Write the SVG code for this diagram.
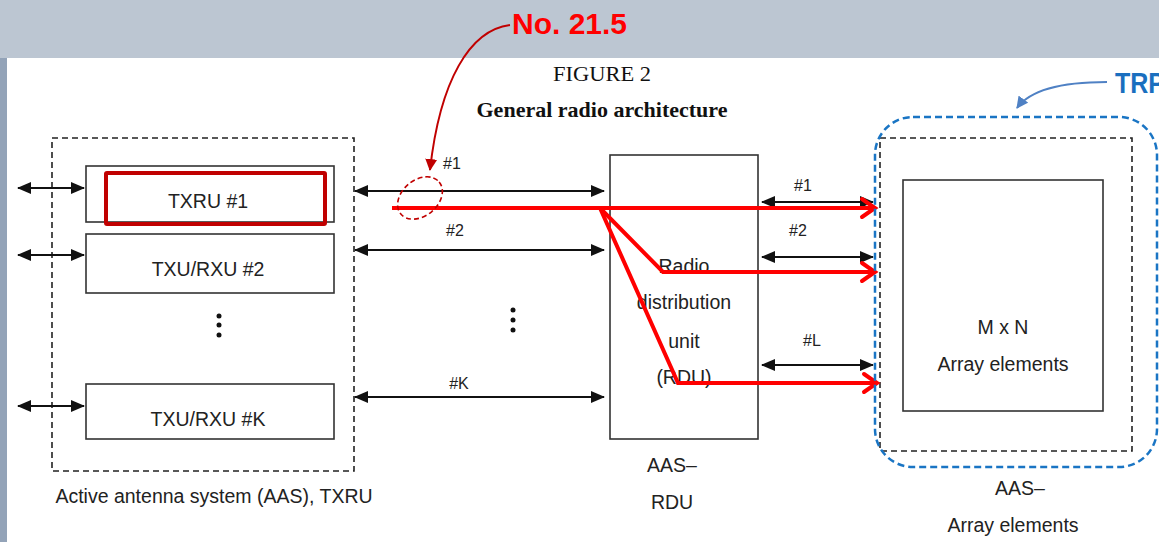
<svg xmlns="http://www.w3.org/2000/svg" width="1159" height="542" viewBox="0 0 1159 542">
<defs>
<style>
.t{font-family:"Liberation Sans",Arial,sans-serif;font-size:19.5px;fill:#222;text-anchor:middle;dominant-baseline:central}
.s{font-family:"Liberation Sans",Arial,sans-serif;font-size:16px;fill:#222;text-anchor:middle;dominant-baseline:central}
.box{fill:#fff;stroke:#333;stroke-width:1.6}
.dash{fill:none;stroke:#222;stroke-width:1.6;stroke-dasharray:6 4}
.bl{stroke:#111;stroke-width:2;fill:none;marker-start:url(#ah);marker-end:url(#ah)}
.rl{stroke:#ff0000;stroke-width:4;fill:none;stroke-linejoin:miter}
.rh{stroke:#ff0000;stroke-width:4;fill:none;stroke-linecap:round}
</style>
<marker id="ah" viewBox="0 0 14 12" refX="13" refY="6" markerWidth="14" markerHeight="12" markerUnits="userSpaceOnUse" orient="auto-start-reverse">
<path d="M0,0 L14,6 L0,12 Z" fill="#111"/>
</marker>
<marker id="rah" viewBox="0 0 12 12" refX="11" refY="6" markerWidth="12" markerHeight="12" markerUnits="userSpaceOnUse" orient="auto">
<path d="M0,0 L12,6 L0,12 Z" fill="#c00000"/>
</marker>
<marker id="bah" viewBox="0 0 12 12" refX="11" refY="6" markerWidth="12" markerHeight="12" markerUnits="userSpaceOnUse" orient="auto">
<path d="M0,0 L12,6 L0,12 Z" fill="#4f81c4"/>
</marker>
</defs>
<rect x="0" y="0" width="1159" height="542" fill="#bcc6d2"/>
<rect x="0" y="58" width="7" height="484" fill="#93a3b8"/>
<rect x="7" y="58" width="1152" height="484" fill="#fff"/>

<text x="602" y="74" font-family="Liberation Serif,serif" font-size="21" fill="#111" text-anchor="middle" dominant-baseline="central" textLength="98" lengthAdjust="spacingAndGlyphs">FIGURE 2</text>
<text x="602" y="110" font-family="Liberation Serif,serif" font-size="21" font-weight="bold" fill="#111" text-anchor="middle" dominant-baseline="central" textLength="251" lengthAdjust="spacingAndGlyphs">General radio architecture</text>

<g id="aas-txru">
<rect class="dash" x="52" y="138" width="302" height="333"/>
<text class="t" x="214" y="496">Active antenna system (AAS), TXRU</text>
</g>
<g id="txru1">
<rect class="box" x="86" y="166" width="248" height="56"/>
<text class="t" x="208" y="201">TXRU #1</text>
</g>
<g id="txu2">
<rect class="box" x="86" y="234" width="248" height="59"/>
<text class="t" x="208" y="269">TXU/RXU #2</text>
</g>
<g id="dots-left" fill="#111">
<circle cx="219" cy="316" r="2.5"/><circle cx="219" cy="325" r="2.5"/><circle cx="219" cy="335" r="2.5"/>
</g>
<g id="txuk">
<rect class="box" x="86" y="384" width="248" height="55"/>
<text class="t" x="208" y="419">TXU/RXU #K</text>
</g>
<g id="rdu">
<rect class="box" x="610" y="155" width="148" height="284"/>
<text class="t" x="684" y="266">Radio</text>
<text class="t" x="684" y="302">distribution</text>
<text class="t" x="684" y="341">unit</text>
<text class="t" x="684" y="377">(RDU)</text>
<text class="t" x="672" y="465">AAS–</text>
<text class="t" x="672" y="502">RDU</text>
</g>
<g id="dots-mid" fill="#111">
<circle cx="513" cy="310" r="2.5"/><circle cx="513" cy="320" r="2.5"/><circle cx="513" cy="330" r="2.5"/>
</g>
<g id="array">
<rect class="dash" x="880" y="138" width="252" height="313"/>
<rect class="box" x="903" y="180" width="200" height="231"/>
<text class="t" x="1003" y="327">M x N</text>
<text class="t" x="1003" y="364">Array elements</text>
<text class="t" x="1020" y="488">AAS–</text>
<text class="t" x="1013" y="525">Array elements</text>
</g>

<g id="connectors">
<line class="bl" x1="18" y1="188" x2="84" y2="188"/>
<line class="bl" x1="18" y1="255" x2="84" y2="255"/>
<line class="bl" x1="18" y1="406" x2="84" y2="406"/>
<line class="bl" x1="355" y1="191" x2="604" y2="191"/>
<line class="bl" x1="355" y1="250" x2="604" y2="250"/>
<line class="bl" x1="355" y1="397" x2="604" y2="397"/>
<text class="s" x="452" y="163">#1</text>
<text class="s" x="455" y="230">#2</text>
<text class="s" x="459" y="383">#K</text>
<line class="bl" x1="762" y1="202" x2="873" y2="202"/>
<line class="bl" x1="762" y1="257" x2="873" y2="257"/>
<line class="bl" x1="762" y1="365" x2="873" y2="365"/>
<text class="s" x="803" y="185">#1</text>
<text class="s" x="798" y="230">#2</text>
<text class="s" x="812" y="340">#L</text>
</g>

<g id="annotations">
<rect x="106" y="173" width="219" height="51" fill="none" stroke="#c00000" stroke-width="4" rx="1"/>
<path class="rl" d="M392,208 L873,208"/>
<path class="rl" d="M600,208 L663,272 L873,272"/>
<path class="rl" d="M600,208 L678,383 L875,383"/>
<path class="rh" d="M862,199 L875,208 L862,217"/>
<path class="rh" d="M862,263 L875,272 L862,281"/>
<path class="rh" d="M864,374 L877,383 L864,392"/>
<ellipse cx="420" cy="198" rx="25" ry="18" transform="rotate(-40 420 198)" fill="none" stroke="#c00000" stroke-width="1.6" stroke-dasharray="5 3"/>
<path d="M510,25 C470,30 440,80 430,170" fill="none" stroke="#c00000" stroke-width="2" marker-end="url(#rah)"/>
<text x="512" y="34" font-family="Liberation Sans,Arial,sans-serif" font-size="30" font-weight="bold" fill="#ff0000" textLength="115" lengthAdjust="spacingAndGlyphs">No. 21.5</text>
<rect x="875" y="117" width="282" height="350" rx="38" fill="none" stroke="#1a75c4" stroke-width="2.5" stroke-dasharray="7 4"/>
<path d="M1107,82 C1060,82 1030,90 1017,108" fill="none" stroke="#4f81c4" stroke-width="2" marker-end="url(#bah)"/>
<text x="1115" y="93" font-family="Liberation Sans,Arial,sans-serif" font-size="29" font-weight="bold" fill="#1a6fbf" textLength="50" lengthAdjust="spacingAndGlyphs">TRP</text>
</g>
</svg>
